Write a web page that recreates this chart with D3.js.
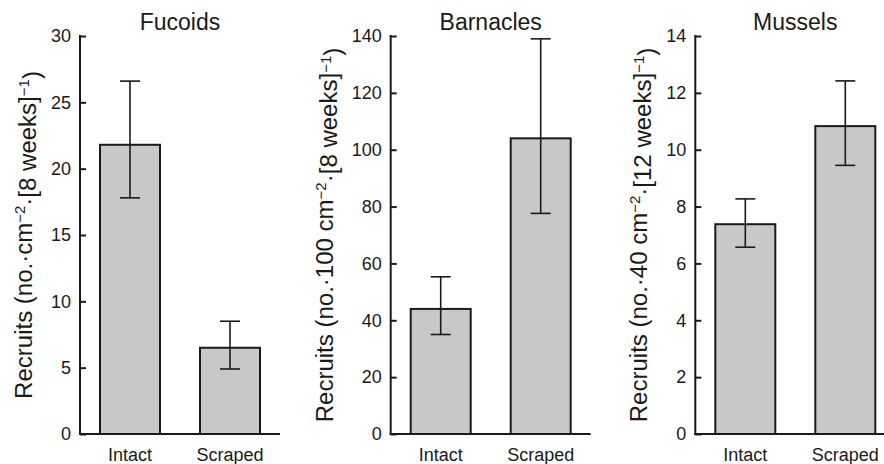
<!DOCTYPE html>
<html>
<head>
<meta charset="utf-8">
<script src="https://cdn.jsdelivr.net/npm/d3@7"></script>
<style>
  body { margin: 0; background: #fff; }
  text { font-family: "Liberation Sans", Arial, Helvetica, sans-serif; fill: #1a1a1a; }
</style>
</head>
<body>
<div id="chart"></div>
<script>
// data
let treatments = ["Intact", "Scraped"];

let fucoidsMean = [21.8, 6.5];
let fucoidsLow = [17.8, 4.9];
let fucoidsHigh = [26.6, 8.5];

let barnaclesMean = [44, 104];
let barnaclesLow = [35, 77.6];
let barnaclesHigh = [55.3, 139];

let musselsMean = [7.38, 10.83];
let musselsLow = [6.57, 9.45];
let musselsHigh = [8.27, 12.42];

let panelTitles = ["Fucoids", "Barnacles", "Mussels"];
let yMaxes = [30, 140, 14];
let yTickSteps = [5, 20, 2];
// y label pieces: [before sup, sup, middle, sup, after]
let yLabels = [
    ["Recruits (no.\u00b7cm", "\u22122", "\u00b7[8 weeks]", "\u22121", ")"],
    ["Recruits (no.\u00b7100 cm", "\u22122", "\u00b7[8 weeks]", "\u22121", ")"],
    ["Recruits (no.\u00b740 cm", "\u22122", "\u00b7[12 weeks]", "\u22121", ")"]
];

let panels = [
    {mean: fucoidsMean, low: fucoidsLow, high: fucoidsHigh},
    {mean: barnaclesMean, low: barnaclesLow, high: barnaclesHigh},
    {mean: musselsMean, low: musselsLow, high: musselsHigh}
];

// layout
let width = 884, height = 464;
let plotW = 200;
let plotTop = 36, plotBottom = 434;
let axisLeft = [80, 390.7, 695.3];
let labelOffset = [48.3, 57.5, 48.6];
let labelLen0 = 328; // length of first y label in the figure (its text looks condensed)

let svg = d3.select("#chart").append("svg")
    .attr("width", width)
    .attr("height", height);

let labels = [];

panels.forEach(function (p, i) {
    let g = svg.append("g")
        .attr("transform", "translate(" + axisLeft[i] + ",0)");

    let x = d3.scaleBand()
        .domain(treatments)
        .range([0, plotW])
        .paddingInner(0.4)
        .paddingOuter(0.2);

    let y = d3.scaleLinear()
        .domain([0, yMaxes[i]])
        .range([plotBottom, plotTop]);

    let rows = treatments.map((t, j) => ({t: t, mean: p.mean[j], low: p.low[j], high: p.high[j]}));

    // bars
    g.selectAll("rect.bar").data(rows).enter()
        .append("rect")
        .attr("class", "bar")
        .attr("x", d => x(d.t))
        .attr("width", x.bandwidth())
        .attr("y", d => y(d.mean))
        .attr("height", d => y(0) - y(d.mean))
        .attr("fill", "#c8c8c8")
        .attr("stroke", "#1a1a1a")
        .attr("stroke-width", 2);

    // error bars
    let cx = d => x(d.t) + x.bandwidth() / 2;
    g.selectAll("line.err").data(rows).enter()
        .append("line")
        .attr("x1", cx).attr("x2", cx)
        .attr("y1", d => y(d.low)).attr("y2", d => y(d.high))
        .attr("stroke", "#1a1a1a").attr("stroke-width", 1.6);
    ["low", "high"].forEach(function (k) {
        g.selectAll("line.cap-" + k).data(rows).enter()
            .append("line")
            .attr("x1", d => cx(d) - 10).attr("x2", d => cx(d) + 10)
            .attr("y1", d => y(d[k])).attr("y2", d => y(d[k]))
            .attr("stroke", "#1a1a1a").attr("stroke-width", 1.6);
    });

    // y axis, ticks pointing inwards
    let yAxis = d3.axisLeft(y)
        .tickValues(d3.range(0, yMaxes[i] + 0.001, yTickSteps[i]))
        .tickSize(-6)
        .tickPadding(9);
    let yg = g.append("g").call(yAxis);
    yg.select(".domain").remove();
    yg.attr("font-family", null);
    yg.selectAll(".tick line").attr("stroke", "#1a1a1a").attr("stroke-width", 2);
    yg.selectAll(".tick text")
        .attr("font-size", 18)
        .attr("fill", "#1a1a1a");

    g.append("line")
        .attr("x1", 0).attr("x2", 0)
        .attr("y1", y(yMaxes[i]) - 1).attr("y2", y(0) + 1)
        .attr("stroke", "#1a1a1a").attr("stroke-width", 2);

    // x axis baseline + labels
    let xAxis = d3.axisBottom(x).tickSize(0).tickPadding(14);
    let xg = g.append("g")
        .attr("transform", "translate(0," + y(0) + ")")
        .call(xAxis);
    xg.select(".domain").remove();
    xg.attr("font-family", null);
    xg.selectAll(".tick text").attr("font-size", 18).attr("fill", "#1a1a1a");

    g.append("line")
        .attr("x1", -1).attr("x2", plotW)
        .attr("y1", y(0)).attr("y2", y(0))
        .attr("stroke", "#1a1a1a").attr("stroke-width", 2);

    // title
    g.append("text")
        .attr("x", plotW / 2)
        .attr("y", 30)
        .attr("text-anchor", "middle")
        .attr("font-size", 23)
        .text(panelTitles[i]);

    // y label with superscripts
    let lab = g.append("text")
        .attr("text-anchor", "middle")
        .attr("font-size", 24);
    let parts = yLabels[i];
    lab.append("tspan").text(parts[0]);
    lab.append("tspan").attr("dy", "-0.45em").attr("font-size", 15).text(parts[1]);
    lab.append("tspan").attr("dy", "0.45em").text(parts[2]);
    lab.append("tspan").attr("dy", "-0.45em").attr("font-size", 15).text(parts[3]);
    lab.append("tspan").attr("dy", "0.45em").text(parts[4]);
    labels.push(lab);
});

// squeeze the rotated labels along their length like in the figure
let sx = labelLen0 / labels[0].node().getBBox().width;
labels.forEach(function (lab, i) {
    lab.attr("transform", "translate(" + (-labelOffset[i]) + "," + ((plotTop + plotBottom) / 2) +
        ") rotate(-90) scale(" + sx + ",1)");
});
</script>
</body>
</html>
